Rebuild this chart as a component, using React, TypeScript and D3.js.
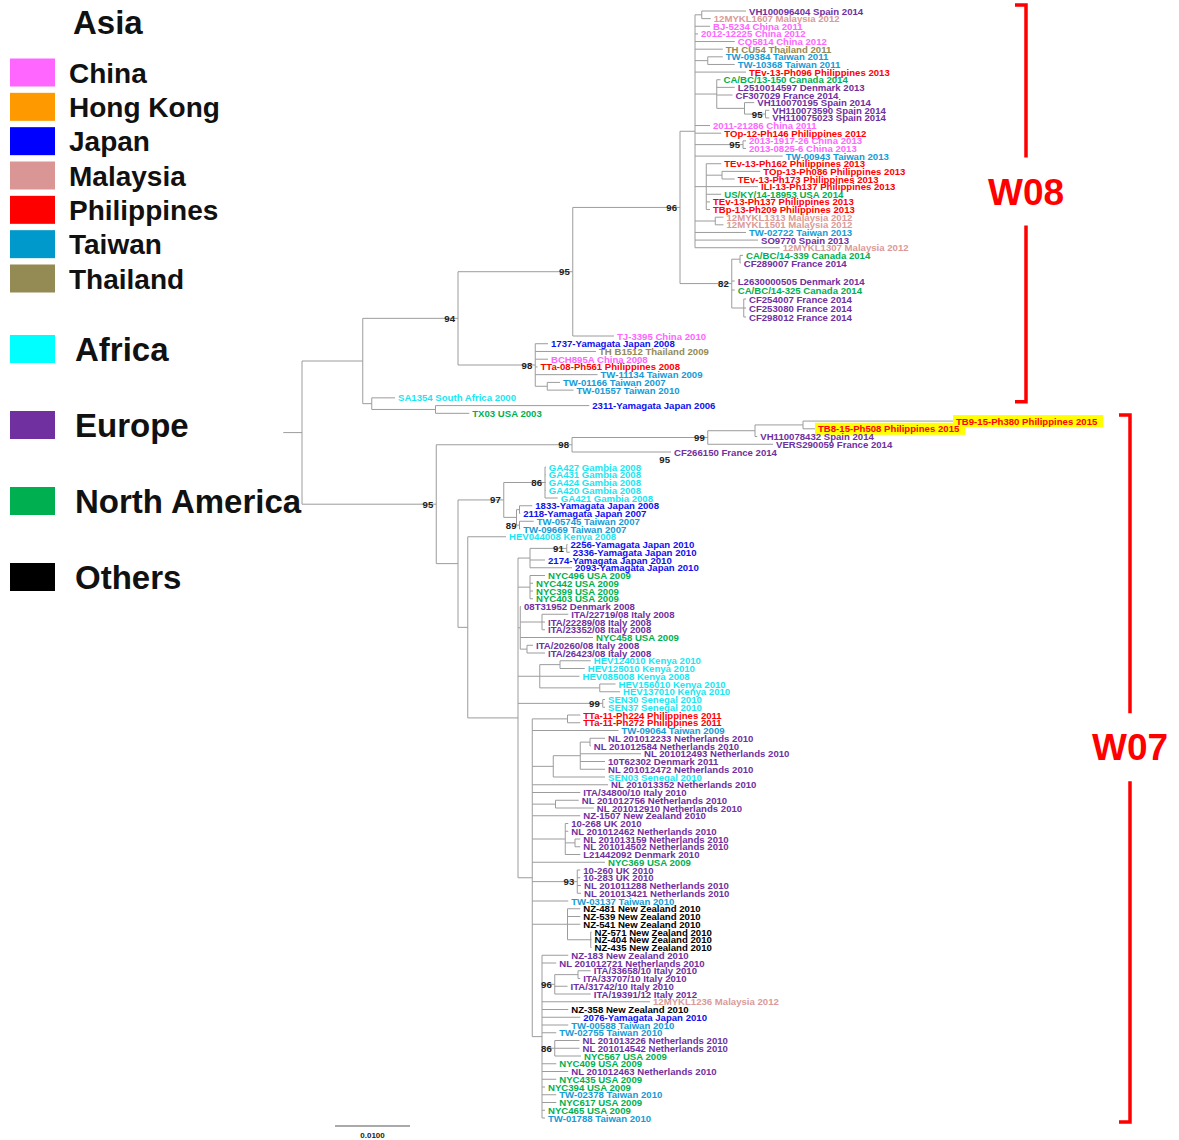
import React, { useMemo } from "react";
import * as d3 from "d3";

// taxa, top to bottom as they appear in the tree
const taxa = [
  "VH100096404 Spain 2014", "12MYKL1607 Malaysia 2012", "BJ-5234 China 2011", "2012-12225 China 2012",
  "CQ5814 China 2012", "TH CU54 Thailand 2011", "TW-09384 Taiwan 2011", "TW-10368 Taiwan 2011",
  "TEv-13-Ph096 Philippines 2013", "CA/BC/13-150 Canada 2014", "L2510014597 Denmark 2013", "CF307029 France 2014",
  "VH110070195 Spain 2014", "VH110073590 Spain 2014", "VH110075023 Spain 2014", "2011-21286 China 2011",
  "TOp-12-Ph146 Philippines 2012", "2013-1917-26 China 2013", "2013-0825-6 China 2013", "TW-00943 Taiwan 2013",
  "TEv-13-Ph162 Philippines 2013", "TOp-13-Ph086 Philippines 2013", "TEv-13-Ph173 Philippines 2013", "ILI-13-Ph137 Philippines 2013",
  "US/KY/14-18953 USA 2014", "TEv-13-Ph137 Philippines 2013", "TBp-13-Ph209 Philippines 2013", "12MYKL1313 Malaysia 2012",
  "12MYKL1501 Malaysia 2012", "TW-02722 Taiwan 2013", "SO9770 Spain 2013", "12MYKL1307 Malaysia 2012",
  "CA/BC/14-339 Canada 2014", "CF289007 France 2014", "L2630000505 Denmark 2014", "CA/BC/14-325 Canada 2014",
  "CF254007 France 2014", "CF253080 France 2014", "CF298012 France 2014", "TJ-3395 China 2010",
  "1737-Yamagata Japan 2008", "TH B1512 Thailand 2009", "BCH895A China 2008", "TTa-08-Ph561 Philippines 2008",
  "TW-11134 Taiwan 2009", "TW-01166 Taiwan 2007", "TW-01557 Taiwan 2010", "SA1354 South Africa 2000",
  "2311-Yamagata Japan 2006", "TX03 USA 2003", "TB9-15-Ph380 Philippines 2015", "TB8-15-Ph508 Philippines 2015",
  "VH110078432 Spain 2014", "VERS290059 France 2014", "CF266150 France 2014", "GA427 Gambia 2008",
  "GA431 Gambia 2008", "GA424 Gambia 2008", "GA420 Gambia 2008", "GA421 Gambia 2008",
  "1833-Yamagata Japan 2008", "2118-Yamagata Japan 2007", "TW-05745 Taiwan 2007", "TW-09669 Taiwan 2007",
  "HEV044008 Kenya 2008", "2256-Yamagata Japan 2010", "2336-Yamagata Japan 2010", "2174-Yamagata Japan 2010",
  "2093-Yamagata Japan 2010", "NYC496 USA 2009", "NYC442 USA 2009", "NYC399 USA 2009",
  "NYC403 USA 2009", "08T31952 Denmark 2008", "ITA/22719/08 Italy 2008", "ITA/22289/08 Italy 2008",
  "ITA/23352/08 Italy 2008", "NYC458 USA 2009", "ITA/20260/08 Italy 2008", "ITA/26423/08 Italy 2008",
  "HEV124010 Kenya 2010", "HEV125010 Kenya 2010", "HEV085008 Kenya 2008", "HEV156010 Kenya 2010",
  "HEV137010 Kenya 2010", "SEN30 Senegal 2010", "SEN37 Senegal 2010", "TTa-11-Ph224 Philippines 2011",
  "TTa-11-Ph272 Philippines 2011", "TW-09064 Taiwan 2009", "NL 201012233 Netherlands 2010", "NL 201012584 Netherlands 2010",
  "NL 201012493 Netherlands 2010", "10T62302 Denmark 2011", "NL 201012472 Netherlands 2010", "SEN03 Senegal 2010",
  "NL 201013352 Netherlands 2010", "ITA/34800/10 Italy 2010", "NL 201012756 Netherlands 2010", "NL 201012910 Netherlands 2010",
  "NZ-1507 New Zealand 2010", "10-268 UK 2010", "NL 201012462 Netherlands 2010", "NL 201013159 Netherlands 2010",
  "NL 201014502 Netherlands 2010", "L21442092 Denmark 2010", "NYC369 USA 2009", "10-260 UK 2010",
  "10-283 UK 2010", "NL 201011288 Netherlands 2010", "NL 201013421 Netherlands 2010", "TW-03137 Taiwan 2010",
  "NZ-481 New Zealand 2010", "NZ-539 New Zealand 2010", "NZ-541 New Zealand 2010", "NZ-571 New Zealand 2010",
  "NZ-404 New Zealand 2010", "NZ-435 New Zealand 2010", "NZ-183 New Zealand 2010", "NL 201012721 Netherlands 2010",
  "ITA/33658/10 Italy 2010", "ITA/33707/10 Italy 2010", "ITA/31742/10 Italy 2010", "ITA/19391/12 Italy 2012",
  "12MYKL1236 Malaysia 2012", "NZ-358 New Zealand 2010", "2076-Yamagata Japan 2010", "TW-00588 Taiwan 2010",
  "TW-02755 Taiwan 2010", "NL 201013226 Netherlands 2010", "NL 201014542 Netherlands 2010", "NYC567 USA 2009",
  "NYC409 USA 2009", "NL 201012463 Netherlands 2010", "NYC435 USA 2009", "NYC394 USA 2009",
  "TW-02378 Taiwan 2010", "NYC617 USA 2009", "NYC465 USA 2009", "TW-01788 Taiwan 2010",
];

// colour group of each taxon (same order)
const taxonGroup = [
  "EU", "MY", "CN", "CN", "CN", "TH", "TW", "TW", "PH", "NA", "EU", "EU", "EU", "EU", "EU", "CN",
  "PH", "CN", "CN", "TW", "PH", "PH", "PH", "PH", "NA", "PH", "PH", "MY", "MY", "TW", "EU", "MY",
  "NA", "EU", "EU", "NA", "EU", "EU", "EU", "CN", "JP", "TH", "CN", "PH", "TW", "TW", "TW", "AF",
  "JP", "NA", "PH", "PH", "EU", "EU", "EU", "AF", "AF", "AF", "AF", "AF", "JP", "JP", "TW", "TW",
  "AF", "JP", "JP", "JP", "JP", "NA", "NA", "NA", "NA", "EU", "EU", "EU", "EU", "NA", "EU", "EU",
  "AF", "AF", "AF", "AF", "AF", "AF", "AF", "PH", "PH", "TW", "EU", "EU", "EU", "EU", "EU", "AF",
  "EU", "EU", "EU", "EU", "EU", "EU", "EU", "EU", "EU", "EU", "NA", "EU", "EU", "EU", "EU", "TW",
  "OT", "OT", "OT", "OT", "OT", "OT", "EU", "EU", "EU", "EU", "EU", "EU", "MY", "OT", "JP", "TW",
  "TW", "EU", "EU", "NA", "NA", "EU", "NA", "NA", "TW", "NA", "NA", "TW",
];

const highlighted = [50, 51];

const groupColor: Record<string, string> = {
  CN: "#FF66FF", HK: "#FF9900", JP: "#1010F0", MY: "#DB9A98", PH: "#FF0000", TW: "#159BD6",
  TH: "#948A54", AF: "#19E6F2", EU: "#7030A0", NA: "#00B050", OT: "#000000",
};

const asiaNames = ["China", "Hong Kong", "Japan", "Malaysia", "Philippines", "Taiwan", "Thailand"];
const asiaColors = ["#FF66FF", "#FF9900", "#0000FF", "#D99694", "#FF0000", "#0099CC", "#948A54"];
const regionNames = ["Africa", "Europe", "North America", "Others"];
const regionColors = ["#00FFFF", "#7030A0", "#00B050", "#000000"];

const cladeNames = ["W08", "W07"];
const cladeFirst = [0, 50];
const cladeLast = [47, 139];

// leaf rows: the figure leaves wider gaps after a few taxa
const rowKnots = [0, 33, 34, 38, 39, 54, 55, 139];
const rowPixels = [11, 263, 281, 317, 336, 452, 467, 1118];

// tree topology, branch lengths (substitutions/site) and bootstrap values; leaves are taxa indices
const cladeQ = "((0:0.0059,1:0.0012):0.0009,2:0.0020,3:0.0004,4:0.0053,5:0.0037,(6:0.0020,7:0.0036):0.0017,8:0.0068,(9:0.0005,10:0.0024,11:0.0021,(12:0.0013,(13:0.0005,14:0.0005)95:0.0028):0.0037):0.0029,15:0.0020,16:0.0035,(17:0.0004,18:0.0004)95:0.0064,19:0.0117,(20:0.0020,(21:0.0051,22:0.0017):0.0021,23:0.0069,24:0.0020,25:0.0005,26:0.0005):0.0015,(27:0.0011,28:0.0011):0.0027,29:0.0068,30:0.0084,31:0.0113):0.0020";
const clade82 = "((32:0.0004,33:0.0001):0.0011,34:0.0004,35:0.0004,(36:0.0003,37:0.0003,38:0.0003):0.0016)82:0.0069";
const clade98 = "(40:0.0017,41:0.0081,42:0.0017,43:0.0003,44:0.0083,(45:0.0017,46:0.0035):0.0016)98:0.0103";
const cladeOld = "(47:0.0031,(48:0.0205,49:0.0045):0.0085):0.0012";
const clade2015 = "((((50:0.0200,51:0.0016):0.0064,52:0.0003):0.0063,53:0.0087)99:0.0181,54:0.0132)98:0.0181";
const clade97 = "((55:0.0001,56:0.0001,57:0.0001,58:0.0001,59:0.0017)86:0.0055,((60:0.0017,61:0.0001):0.0004,(62:0.0019,63:0.0001)89:0.0004):0.0017)97:0.0061";
const groupsH = "((65:0.0001,66:0.0004)91:0.0049,67:0.0020,68:0.0056):0.0016,(69:0.0020,70:0.0004,71:0.0004,72:0.0004):0.0016,(73:0.0001,(74:0.0035,75:0.0004,76:0.0004):0.0029,77:0.0097,(78:0.0008,79:0.0024):0.0009):0.0003,((80:0.0041,81:0.0033):0.0027,82:0.0053,(83:0.0021,84:0.0027):0.0080):0.0029,(85:0.0003,86:0.0003)99:0.0113";
const groupsL = "(87:0.0017,88:0.0017):0.0047,89:0.0115,(((90:0.0020,91:0.0001):0.0013,92:0.0081,93:0.0033,94:0.0033):0.0036,95:0.0069):0.0028,96:0.0101,97:0.0064,(98:0.0031,99:0.0051):0.0031,100:0.0064,(101:0.0004,102:0.0004,(103:0.0007,104:0.0007):0.0013,105:0.0020):0.0044,106:0.0097,(107:0.0004,108:0.0004,109:0.0005,110:0.0005)93:0.0060,111:0.0048,(112:0.0017,113:0.0017,114:0.0017,(115:0.0001,116:0.0001,117:0.0001):0.0031):0.0047";
const cladeP = "(118:0.0035,119:0.0019,((120:0.0017,121:0.0003):0.0031,122:0.0017,123:0.0048)96:0.0017,124:0.0144,125:0.0035,126:0.0051,127:0.0035,128:0.0019,(129:0.0033,130:0.0033,131:0.0035)86:0.0017,132:0.0019,133:0.0035,134:0.0019,135:0.0004,136:0.0019,137:0.0019,138:0.0004,139:0.0004):0.0013";

const newick =
  "(((((" + cladeQ + "," + clade82 + ")96:0.0143,39:0.0055)95:0.0153," + clade98 + ")94:0.0127," + cladeOld + "):0.0081," +
  "(" + clade2015 + ",(" + clade97 + ",(64:0.0051,(" + groupsH + ",(" + groupsL + "," + cladeP +
  "):0.0019):0.0067):0.0013):0.0029)95:0.0179);";

// bootstrap printed next to a terminal branch
const leafSupport: [number, number][] = [[54, 95]];

const scaleBarValue = 0.01;

type TNode = { id: number | null; support: number | null; length: number; children: TNode[] };

function parseNewick(src: string): TNode {
  const s = src.replace(/\s+/g, "");
  let i = 0;
  const read = (): TNode => {
    const n: TNode = { id: null, support: null, length: 0, children: [] };
    if (s[i] === "(") {
      i++;
      n.children.push(read());
      while (s[i] === ",") { i++; n.children.push(read()); }
      i++;
    }
    let label = "";
    while (i < s.length && ":,);".indexOf(s[i]) < 0) label += s[i++];
    if (s[i] === ":") {
      i++;
      let num = "";
      while (i < s.length && ",);".indexOf(s[i]) < 0) num += s[i++];
      n.length = parseFloat(num);
    }
    if (label !== "") {
      if (n.children.length) n.support = +label;
      else n.id = +label;
    }
    return n;
  };
  return read();
}

const FONT = "'Liberation Sans', Arial, Helvetica, sans-serif";
const LEAF_SIZE = 9.6;

function textWidth(str: string, font: string) {
  const c = document.createElement("canvas").getContext("2d");
  if (!c) return str.length * 6;
  c.font = font;
  return c.measureText(str).width;
}

export default function App() {
  const width = 1179, height = 1140;

  const tree = useMemo(() => {
    const root = d3.hierarchy<TNode>(parseNewick(newick), d => (d.children.length ? d.children : null));
    const dist = new Map<any, number>();
    root.eachBefore(d => dist.set(d, (d.parent ? dist.get(d.parent)! : 0) + d.data.length));
    const leaves = root.leaves();
    const y = d3.scaleLinear().domain(rowKnots).range(rowPixels);
    const yy = new Map<any, number>();
    root.eachAfter(d => {
      if (d.children) yy.set(d, (yy.get(d.children[0])! + yy.get(d.children[d.children.length - 1])!) / 2);
      else yy.set(d, y(leaves.indexOf(d)));
    });
    return { root, dist, yy, y, leaves };
  }, []);

  const x = d3.scaleLinear().domain([0, scaleBarValue]).range([302, 377]);
  const { root, dist, yy, y, leaves } = tree;
  const nodes = root.descendants();

  const lineColor = "#9c9c9c";
  const leafFont = `bold ${LEAF_SIZE}px ${FONT}`;

  // legend scales
  const asiaY = d3.scalePoint<string>().domain(asiaNames).range([72.5, 278.5]);
  const regionY = d3.scalePoint<string>().domain(regionNames).range([349, 577]);

  return (
    <svg width={width} height={height} style={{ position: "absolute", left: 0, top: 0, background: "#fff" }} fontFamily={FONT}>
      <rect width={width} height={height} fill="#fff" />

      {/* legend */}
      <text x={73} y={34} fontSize={33} fontWeight="bold" fill="#111">Asia</text>
      {asiaNames.map((name, i) => (
        <g key={name}>
          <rect x={10} y={asiaY(name)! - 14} width={45} height={28} fill={asiaColors[i]} />
          <text x={69} y={asiaY(name)! + 10} fontSize={28} fontWeight="bold" fill="#111">{name}</text>
        </g>
      ))}
      {regionNames.map((name, i) => (
        <g key={name}>
          <rect x={10} y={regionY(name)! - 14} width={45} height={28} fill={regionColors[i]} />
          <text x={75} y={regionY(name)! + 12} fontSize={33} fontWeight="bold" fill="#111">{name}</text>
        </g>
      ))}

      {/* highlight boxes */}
      {highlighted.map(id => {
        const leaf = leaves[id];
        const tx = x(dist.get(leaf)!) + 3;
        const w = textWidth(taxa[id], leafFont);
        return <rect key={"hl" + id} x={tx - 3} y={yy.get(leaf)! - 6} width={w + 9} height={12} fill="#FFFF00" />;
      })}

      {/* branches */}
      <g stroke={lineColor} strokeWidth={1} fill="none">
        <line x1={x(-0.0025)} x2={x(0)} y1={yy.get(root)} y2={yy.get(root)} />
        {nodes.filter(d => d.parent).map((d, i) => (
          <line key={"h" + i} x1={x(dist.get(d.parent)!)} x2={x(dist.get(d)!)} y1={yy.get(d)} y2={yy.get(d)} />
        ))}
        {nodes.filter(d => d.children).map((d, i) => (
          <line key={"v" + i} x1={x(dist.get(d)!)} x2={x(dist.get(d)!)}
            y1={yy.get(d.children![0])} y2={yy.get(d.children![d.children!.length - 1])} />
        ))}
      </g>

      {/* bootstrap values */}
      <g fontSize={9.6} fontWeight="bold" fill="#222" textAnchor="end">
        {nodes.filter(d => d.data.support != null).map((d, i) => (
          <text key={"b" + i} x={x(dist.get(d)!) - 3} y={yy.get(d)! + 3.5}>{d.data.support}</text>
        ))}
        {leafSupport.map(([id, v]) => {
          const leaf = leaves[id];
          return <text key={"ls" + id} x={x(dist.get(leaf)!) - 1} y={yy.get(leaf)! + 11}>{v}</text>;
        })}
      </g>

      {/* taxon labels */}
      <g fontSize={LEAF_SIZE} fontWeight="bold">
        {leaves.map(l => {
          const id = l.data.id as number;
          return (
            <text key={"t" + id} x={x(dist.get(l)!) + 3} y={yy.get(l)! + 3.5} fill={groupColor[taxonGroup[id]]}>
              {taxa[id]}
            </text>
          );
        })}
      </g>

      {/* clade brackets */}
      {cladeNames.map((name, i) => {
        const bx = i === 0 ? 1026 : 1130;
        const top = y(cladeFirst[i]) - 6;
        const bottom = y(cladeLast[i]) + 4;
        const mid = top + (bottom - top) * 0.47;
        return (
          <g key={name} stroke="#FF0000" strokeWidth={3.5} fill="none">
            <polyline points={`${bx - 11},${top} ${bx},${top} ${bx},${mid - 34}`} />
            <polyline points={`${bx},${mid + 34} ${bx},${bottom} ${bx - 11},${bottom}`} />
            <text x={bx} y={mid + 13} textAnchor="middle" fontSize={37} fontWeight="bold" fill="#FF0000" stroke="none">{name}</text>
          </g>
        );
      })}

      {/* scale bar */}
      <g>
        <line x1={335} x2={335 + x(scaleBarValue) - x(0)} y1={1126} y2={1126} stroke="#555" strokeWidth={1} />
        <text x={335 + (x(scaleBarValue) - x(0)) / 2} y={1138} textAnchor="middle" fontSize={8} fontWeight="bold" fill="#222">
          {d3.format(".4f")(scaleBarValue)}
        </text>
      </g>
    </svg>
  );
}
